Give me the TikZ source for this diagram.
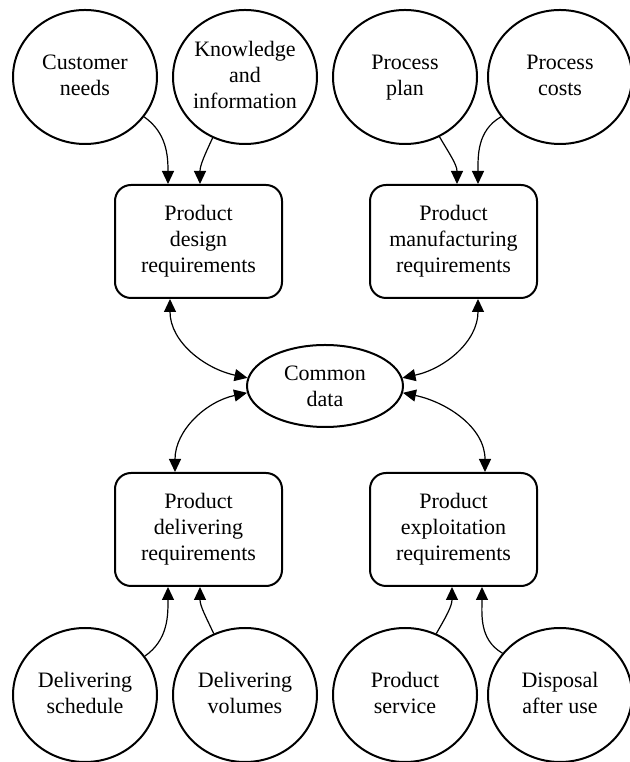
\documentclass[tikz,border=0pt]{standalone}
\usepackage{fontspec}
\setmainfont{Liberation Serif}
\usetikzlibrary{shapes.geometric,arrows.meta}
\begin{document}
\begin{tikzpicture}[x=1pt,y=1pt,
  lbl/.style={align=center,font=\fontsize{22}{26}\selectfont},
  source/.style={lbl,ellipse,draw,line width=2pt,minimum width=144pt,minimum height=134pt,inner xsep=-2pt,inner ysep=0pt,text depth=4pt},
  reqbox/.style={lbl,draw,rounded corners=16pt,line width=2pt,minimum width=167pt,minimum height=113pt},
  hub/.style={lbl,ellipse,draw,line width=2pt,minimum width=156pt,minimum height=82pt,inner sep=0pt},
  tip/.tip={Triangle[length=13pt,width=12pt]},
  feed/.style={-tip,line width=1.2pt},
  link/.style={tip-tip,line width=1.2pt}]
\useasboundingbox (0,0) rectangle (629,762);

% sources on top
\node[source] (cn) at (85,685)  {Customer\\needs};
\node[source] (ki) at (245,685) {Knowledge\\and\\information};
\node[source] (pp) at (405,685) {Process\\plan};
\node[source] (pc) at (560,685) {Process\\costs};

% sources at the bottom
\node[source] (ds) at (85,67)  {Delivering\\schedule};
\node[source] (dv) at (245,67) {Delivering\\volumes};
\node[source] (ps) at (405,67) {Product\\service};
\node[source] (da) at (560,67) {Disposal\\after use};

% requirement boxes
\node[reqbox] (pdr) at (198.5,520.5) {Product\\design\\requirements};
\node[reqbox] (pmr) at (453.5,520.5) {Product\\manufacturing\\requirements};
\node[reqbox] (pdl) at (198.5,232.5) {Product\\delivering\\requirements};
\node[reqbox] (per) at (453.5,232.5) {Product\\exploitation\\requirements};

% shared hub
\node[hub] (cd) at (325,376) {Common\\data};

% inputs to the upper boxes
\draw[feed] (cn.-34)  to[out=-35,in=90]  ([xshift=-30.5pt]pdr.north);
\draw[feed] (ki.-118) to[out=-115,in=90] ([xshift=1.5pt]pdr.north);
\draw[feed] (pp.-60)  to[out=-60,in=90]  ([xshift=3.5pt]pmr.north);
\draw[feed] (pc.-146) to[out=-150,in=90] ([xshift=24.5pt]pmr.north);

% inputs to the lower boxes
\draw[feed] (ds.33)  to[out=35,in=-90]  ([xshift=-30.5pt]pdl.south);
\draw[feed] (dv.117) to[out=115,in=-90] ([xshift=1.5pt]pdl.south);
\draw[feed] (ps.63)  to[out=60,in=-90]  ([xshift=-1.5pt]per.south);
\draw[feed] (da.144) to[out=150,in=-90] ([xshift=28.5pt]per.south);

% exchanges with the hub
\draw[link] ([xshift=-28.5pt]pdr.south) to[out=-90,in=168] (cd.174);
\draw[link] ([xshift=24.5pt]pmr.south)  to[out=-90,in=12]  (cd.6);
\draw[link] ([xshift=-23.5pt]pdl.north) to[out=90,in=192]  (cd.185);
\draw[link] ([xshift=31.5pt]per.north)  to[out=90,in=-12]  (cd.-5);
\end{tikzpicture}
\end{document}
